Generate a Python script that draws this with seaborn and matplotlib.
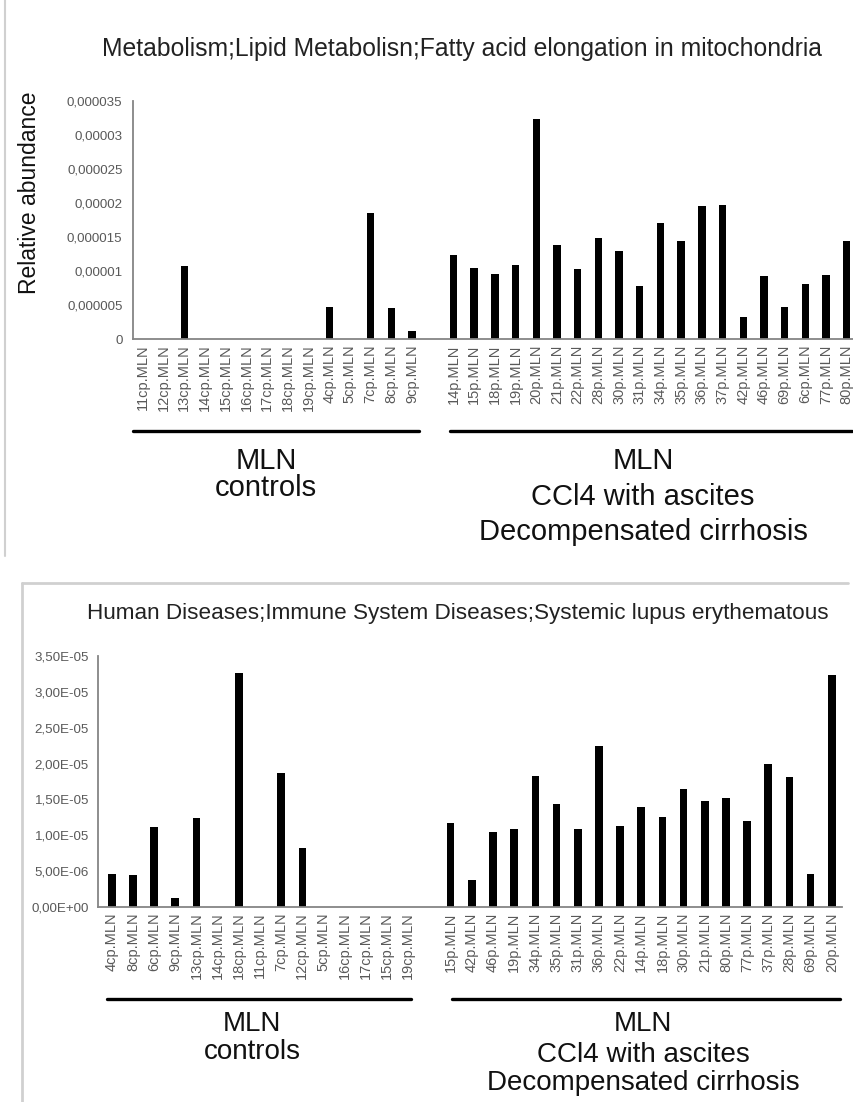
import matplotlib
matplotlib.use("Agg")
import matplotlib.pyplot as plt
import seaborn as sns
import pandas as pd
from matplotlib.ticker import FixedLocator, FixedFormatter
from matplotlib.lines import Line2D

sns.set_theme(style="white")
plt.rcParams["font.family"] = ["Liberation Sans", "DejaVu Sans"]

# ---- Panel 1: Fatty acid elongation in mitochondria ----
fa_controls = ["11cp.MLN", "12cp.MLN", "13cp.MLN", "14cp.MLN", "15cp.MLN",
               "16cp.MLN", "17cp.MLN", "18cp.MLN", "19cp.MLN", "4cp.MLN",
               "5cp.MLN", "7cp.MLN", "8cp.MLN", "9cp.MLN"]
fa_controls_values = [0, 0, 1.07e-05, 0, 0, 0, 0, 0, 0, 4.7e-06,
                      0, 1.86e-05, 4.5e-06, 1.2e-06]
fa_cirrhosis = ["14p.MLN", "15p.MLN", "18p.MLN", "19p.MLN", "20p.MLN",
                "21p.MLN", "22p.MLN", "28p.MLN", "30p.MLN", "31p.MLN",
                "34p.MLN", "35p.MLN", "36p.MLN", "37p.MLN", "42p.MLN",
                "46p.MLN", "69p.MLN", "6cp.MLN", "77p.MLN", "80p.MLN"]
fa_cirrhosis_values = [1.23e-05, 1.05e-05, 9.6e-06, 1.09e-05, 3.24e-05,
                       1.38e-05, 1.03e-05, 1.49e-05, 1.30e-05, 7.8e-06,
                       1.70e-05, 1.44e-05, 1.95e-05, 1.97e-05, 3.3e-06,
                       9.2e-06, 4.7e-06, 8.1e-06, 9.4e-06, 1.44e-05]
fa_yticks = [0, 0.000005, 0.00001, 0.000015, 0.00002, 0.000025, 0.00003, 0.000035]
fa_yticklabels = ["0", "0,000005", "0,00001", "0,000015", "0,00002",
                  "0,000025", "0,00003", "0,000035"]
fa_title = "Metabolism;Lipid Metabolisn;Fatty acid elongation in mitochondria"

# ---- Panel 2: Systemic lupus erythematous ----
sle_controls = ["4cp.MLN", "8cp.MLN", "6cp.MLN", "9cp.MLN", "13cp.MLN",
                "14cp.MLN", "18cp.MLN", "11cp.MLN", "7cp.MLN", "12cp.MLN",
                "5cp.MLN", "16cp.MLN", "17cp.MLN", "15cp.MLN", "19cp.MLN"]
sle_controls_values = [4.6e-06, 4.4e-06, 1.11e-05, 1.3e-06, 1.24e-05,
                       0, 3.26e-05, 0, 1.87e-05, 8.2e-06,
                       0, 0, 0, 0, 0]
sle_cirrhosis = ["15p.MLN", "42p.MLN", "46p.MLN", "19p.MLN", "34p.MLN",
                 "35p.MLN", "31p.MLN", "36p.MLN", "22p.MLN", "14p.MLN",
                 "18p.MLN", "30p.MLN", "21p.MLN", "80p.MLN", "77p.MLN",
                 "37p.MLN", "28p.MLN", "69p.MLN", "20p.MLN"]
sle_cirrhosis_values = [1.17e-05, 3.7e-06, 1.04e-05, 1.09e-05, 1.83e-05,
                        1.44e-05, 1.09e-05, 2.25e-05, 1.13e-05, 1.40e-05,
                        1.25e-05, 1.64e-05, 1.48e-05, 1.52e-05, 1.20e-05,
                        1.99e-05, 1.81e-05, 4.6e-06, 3.24e-05]
sle_yticks = [0, 0.000005, 0.00001, 0.000015, 0.00002, 0.000025, 0.00003, 0.000035]
sle_yticklabels = ["0,00E+00", "5,00E-06", "1,00E-05", "1,50E-05", "2,00E-05",
                   "2,50E-05", "3,00E-05", "3,50E-05"]
sle_title = "Human Diseases;Immune System Diseases;Systemic lupus erythematous"

controls_lines = ["MLN", "controls"]
cirrhosis_lines = ["MLN", "CCl4 with ascites", "Decompensated cirrhosis"]

W, H = 854, 1102
fig = plt.figure(figsize=(W / 100, H / 100), dpi=100)
fig.patch.set_facecolor("white")

TICK_GREY = "#595959"
AXIS_GREY = "#858585"
FRAME_GREY = "#d0d0d0"


def fx(px):
    return px / W


def fy(py):
    return 1 - py / H


def bar_panel(ax, ctrl, ctrl_vals, dis, dis_vals, yticks, yticklabels, xlim, ypad):
    df = pd.DataFrame({"sample": ctrl + dis, "value": ctrl_vals + dis_vals})
    order = ctrl + [" "] + dis
    sns.barplot(data=df, x="sample", y="value", order=order, color="black",
                saturation=1, width=0.36, linewidth=0, ax=ax)
    ax.set_xlim(*xlim)
    ax.set_ylim(0, 3.5e-05)
    ax.yaxis.set_major_locator(FixedLocator(yticks))
    ax.yaxis.set_major_formatter(FixedFormatter(yticklabels))
    ax.tick_params(axis="x", rotation=90, labelsize=10.5, colors=TICK_GREY,
                   length=0, pad=4)
    ax.tick_params(axis="y", labelsize=9.6, colors=TICK_GREY, length=0, pad=ypad)
    ax.set_xlabel("")
    ax.set_ylabel("")
    sns.despine(ax=ax)
    for side in ("left", "bottom"):
        ax.spines[side].set_color(AXIS_GREY)
        ax.spines[side].set_linewidth(1.3)
    ax.set_facecolor("white")


# top panel
ax1 = fig.add_axes([fx(133), fy(339), fx(854) - fx(133), (339 - 101) / H])
bar_panel(ax1, fa_controls, fa_controls_values, fa_cirrhosis, fa_cirrhosis_values,
          fa_yticks, fa_yticklabels, (-0.48, 34.35), 7.5)
fig.text(fx(462), fy(49), fa_title, ha="center", va="center", fontsize=17.8,
         color="#222222")
fig.text(fx(30), fy(193), "Relative abundance", rotation=90, ha="center",
         va="center", fontsize=16.5, color="#111111")

# bottom panel
ax2 = fig.add_axes([fx(98), fy(907), fx(842) - fx(98), (907 - 656) / H])
bar_panel(ax2, sle_controls, sle_controls_values, sle_cirrhosis, sle_cirrhosis_values,
          sle_yticks, sle_yticklabels, (-0.65, 34.48), 6.5)
fig.text(fx(458), fy(614), sle_title, ha="center", va="center", fontsize=16.2,
         color="#222222")


def group_marks(y_line, segments, blocks, size):
    for (x0, x1) in segments:
        fig.add_artist(Line2D([fx(x0), fx(x1)], [fy(y_line), fy(y_line)],
                              color="black", linewidth=2.4))
    for (x, ys, lines) in blocks:
        for y, s in zip(ys, lines):
            fig.text(fx(x), fy(y), s, ha="center", va="center", fontsize=size,
                     color="#111111")


group_marks(431, [(133, 419), (450, 852)],
            [(266, (461, 488), controls_lines),
             (643, (461, 497, 532), cirrhosis_lines)], 21)
group_marks(999, [(107, 411), (452, 840)],
            [(252, (1024, 1052), controls_lines),
             (643, (1024, 1055, 1083), cirrhosis_lines)], 20)

# panel frames
fig.add_artist(Line2D([fx(5), fx(5)], [fy(0), fy(556)], color=FRAME_GREY, linewidth=1.5))
fig.add_artist(Line2D([fx(22), fx(848)], [fy(583), fy(583)], color=FRAME_GREY, linewidth=2))
fig.add_artist(Line2D([fx(22), fx(22)], [fy(583), fy(1102)], color=FRAME_GREY, linewidth=2))

fig.savefig("out.png", dpi=100, facecolor="white")
